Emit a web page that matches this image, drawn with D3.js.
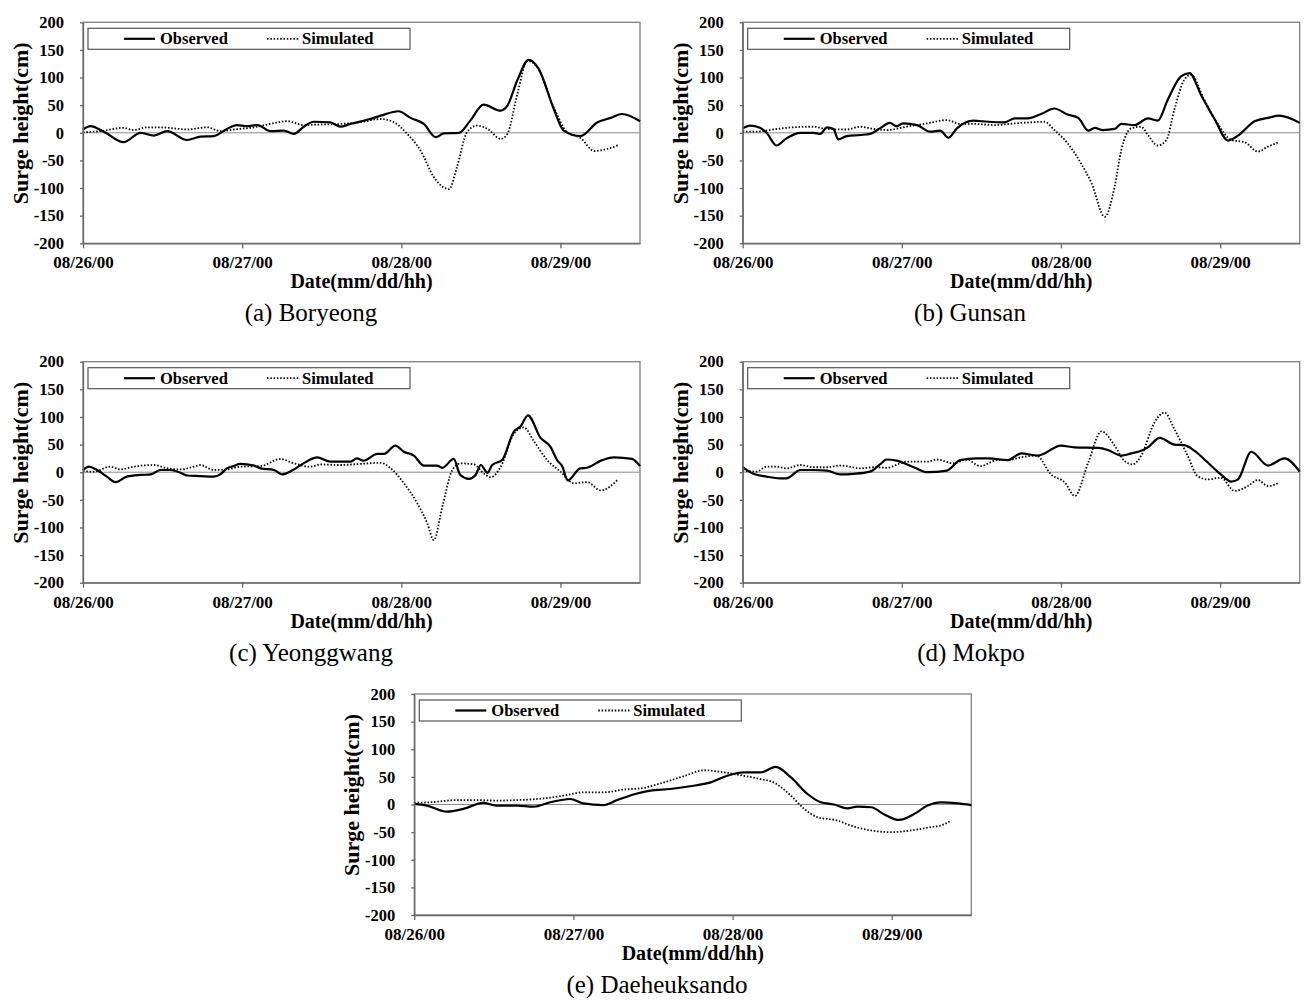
<!DOCTYPE html>
<meta charset="utf-8">
<style>
  body { margin: 0; background: #fff; }
  svg text { font-family: 'Liberation Serif', 'Times New Roman', serif; fill: #000; }
  .axis text { font-weight: bold; font-size: 16.5px; }
  .axis-x text { font-size: 17px; }
  .axis path, .axis line { stroke: #666; stroke-width: 1.3; }
  .axis-title { font-weight: bold; font-size: 20px; }
  .axis-title.y-title { font-size: 22px; }
  .legend-label { font-weight: bold; font-size: 16.5px; }
  .caption { font-size: 25px; }
  .frame { fill: none; stroke: #808080; stroke-width: 1.3; }
  .legend-box { fill: #fff; stroke: #555; stroke-width: 1.2; }
  .zero-line { stroke: #8c8c8c; stroke-width: 1; }
  .observed { fill: none; stroke: #000; stroke-width: 2.2; }
  .simulated { fill: none; stroke: #000; stroke-width: 1.8; stroke-dasharray: 1.5,1.8; }
</style>
<body>
<div id="vis"></div>
<script src="https://cdn.jsdelivr.net/npm/d3@7"></script>
<script>

// values: [hours since 08/26 00h, surge height in cm]
const stations = ['Boryeong', 'Gunsan', 'Yeonggwang', 'Mokpo', 'Daeheuksando'];
const panelLetters = ['a', 'b', 'c', 'd', 'e'];
const dayTicks = [0, 24, 48, 72];
const dayLabels = ['08/26/00', '08/27/00', '08/28/00', '08/29/00'];
const surgeTicks = [-200, -150, -100, -50, 0, 50, 100, 150, 200];
const seriesNames = ['Observed', 'Simulated'];

const boryeongObs = [[0,6],[1.1,12],[3.4,0],[6.1,-17],[8.7,0],[10.7,-5],[12.7,3],[15.7,-13],[17.7,-7],[19.7,-6],[21.7,7],[23.2,14],[24.7,12],[26.3,14],[28.3,3],[30.3,4],[31.8,-2],[33.3,11],[34.8,20],[37.3,19],[38.8,11],[40.3,16],[43.3,25],[44.9,31],[47.6,39],[49.4,27],[51.4,16],[53.2,-8],[54.4,-1],[56.7,0],[58.4,22],[60.4,51],[63,40],[64,49],[65.5,95],[67.2,132],[68.7,116],[71,43],[72.5,4],[75,-6],[77.6,19],[79.6,27],[81.3,34],[84,21]];
const boryeongSim = [[0,1],[2.6,3],[6.1,9],[7.6,5],[9.7,10],[11.7,10],[13.7,8],[15.7,6],[18.7,10],[20.7,3],[22.7,6],[25.8,10],[27.8,15],[30.8,21],[33.3,14],[35.8,15],[38.8,16],[41.8,19],[44.9,25],[46.9,19],[48.9,-2],[50.9,-32],[52.9,-80],[55.2,-102],[56.4,-62],[57.9,1],[59.4,13],[61,7],[63,-11],[64,-2],[65.5,70],[67,130],[68.5,119],[71,46],[73,1],[75,-9],[77.1,-33],[79.1,-29],[80.8,-22]];

const gunsanObs = [[0,8],[1.1,13],[2.6,9],[3.6,0],[5.1,-23],[6.6,-10],[8.7,0],[10.7,0],[11.7,-2],[12.7,10],[13.7,7],[14.4,-12],[15.7,-6],[17.7,-4],[19.2,-2],[20.7,8],[22.2,18],[23.2,12],[24.2,17],[26.3,14],[28.3,2],[29.8,4],[31,-9],[32.3,8],[34.8,22],[37,20],[39.5,19],[41,26],[43,26],[45,34],[47,44],[49,33],[50.6,27],[52.1,4],[53.1,9],[54.3,5],[56.1,7],[57.1,16],[59.1,14],[61.1,26],[62.6,22],[64.1,60],[66.1,102],[67.4,108],[69.1,69],[71.2,24],[73.2,-14],[74.7,-5],[77.2,21],[79.2,27],[80.9,31],[84,18]];
const gunsanSim = [[0,2],[2.1,2],[4.6,6],[7.6,10],[10.7,11],[12.7,7],[15.7,6],[17.7,11],[19.7,7],[21.7,5],[24.7,11],[27.8,17],[30.8,23],[32.8,16],[35,16],[38,14],[41,17],[43.5,19],[45.5,20],[47,5],[49,-19],[51,-55],[52.6,-91],[54.6,-152],[56.1,-97],[57.1,-31],[58.6,8],[60.1,11],[61.1,-4],[62.6,-23],[63.9,-13],[65.1,42],[66.6,96],[67.6,105],[69.6,60],[71.6,17],[73.7,-13],[75.7,-17],[77.7,-34],[79.2,-25],[80.9,-17]];

const yeonggwangObs = [[0,4],[0.9,10],[2.1,4],[3.6,-8],[4.9,-18],[6.6,-8],[8.7,-5],[10.2,-4],[11.7,4],[13.2,4],[14.7,-1],[15.7,-6],[17.7,-7],[19.7,-8],[20.7,-4],[21.7,7],[22.7,11],[23.7,15],[25.8,12],[26.8,7],[28.8,4],[30,-4],[31.8,5],[33.8,20],[35.3,27],[37.3,19],[40.3,19],[41.3,25],[42.3,21],[44.4,33],[45.4,33],[47.1,48],[48.4,37],[49.9,30],[51.4,12],[53.4,12],[54.2,8],[55.9,24],[56.9,-5],[58.2,-12],[59.2,-5],[60,13],[61,-1],[61.7,13],[63.2,22],[65,74],[66,83],[67.1,103],[69,62],[70.5,46],[71.5,22],[72.3,10],[73.1,-15],[75,7],[76,8],[78.1,21],[80.1,27],[82.8,24],[84,11]];
const yeonggwangSim = [[0,2],[1.6,1],[4.1,10],[5.6,5],[7.6,10],[10.7,13],[12.7,7],[14.7,5],[16.7,10],[17.7,13],[19.7,4],[21.7,5],[23.7,10],[26.8,11],[29.8,24],[31.8,16],[34.3,10],[35.8,14],[38.8,13],[41.8,15],[44.9,17],[46.4,7],[48.4,-20],[50.4,-56],[51.9,-92],[52.9,-123],[54.2,-62],[55.7,4],[56.9,16],[59,14],[60.4,-2],[61.5,-9],[63,10],[65,70],[66.5,81],[68,56],[70,22],[72,1],[74,-20],[76,-18],[78.1,-33],[80.6,-14]];

const mokpoObs = [[0,9],[1.6,-3],[3.6,-8],[5.6,-11],[6.6,-11],[8.7,4],[10.7,4],[12.7,3],[14.7,-4],[16.7,-3],[19.2,1],[20.7,14],[21.7,23],[23.2,21],[25.8,9],[27.8,0],[30.8,3],[32.8,22],[35.3,25],[37,25],[40,22],[42,34],[44.5,30],[48,48],[50,45],[53.6,44],[55.1,40],[57.1,30],[58.6,34],[60.1,39],[61.1,45],[62.9,62],[65.1,50],[66.6,49],[68.1,39],[70.1,18],[72.1,-4],[73.7,-17],[74.7,-13],[76.7,37],[79.2,12],[81.7,25],[84,1]];
const mokpoSim = [[0,3],[2.1,1],[3.6,10],[5.1,10],[6.6,7],[8.7,13],[10.7,9],[12.7,9],[14.7,12],[15.7,11],[17.7,7],[19.7,9],[21.7,8],[24.7,19],[27.8,19],[29.3,23],[31.8,16],[33.8,23],[35.8,11],[38.5,22],[40,22],[42,27],[44.3,30],[46.5,-4],[48.6,-19],[50.1,-43],[52.1,17],[54.1,74],[56.1,48],[57.6,20],[58.8,14],[60.1,30],[62.1,90],[63.6,108],[65.1,78],[67.1,30],[68.6,-7],[70.1,-13],[72.1,-10],[74.2,-34],[76.2,-25],[77.7,-14],[79.2,-25],[80.9,-19]];

const daeheuksandoObs = [[0,1],[1.9,-2],[4.9,-13],[7.4,-8],[10.4,3],[12.4,-2],[15.5,-2],[18,-4],[20.5,4],[23.5,10],[25.5,2],[28.5,-1],[30.6,8],[33.6,20],[35.6,25],[38.6,28],[41.6,33],[44.7,40],[47.2,52],[49.7,58],[52.2,58],[54.5,68],[56.8,49],[59.3,19],[61.3,4],[63.3,0],[65.3,-7],[66.8,-4],[68.9,-5],[70.9,-18],[73.1,-28],[75.4,-17],[77.4,-2],[79.4,4],[82,2],[84,-1]];
const daeheuksandoSim = [[0,3],[2.4,4],[6.4,8],[9.4,8],[12.4,7],[15.5,8],[19.5,11],[22.5,16],[25.5,22],[28.5,22],[31.6,27],[34.6,30],[36.5,36],[40.6,51],[43.7,62],[46.7,58],[49.7,52],[52.2,46],[54.2,40],[56.8,16],[58.8,-8],[60.8,-23],[63.8,-29],[65.8,-38],[68.9,-47],[71.9,-50],[74.9,-47],[77.9,-41],[79.4,-38],[81,-29]];

const observed = [boryeongObs, gunsanObs, yeonggwangObs, mokpoObs, daeheuksandoObs];
const simulated = [boryeongSim, gunsanSim, yeonggwangSim, mokpoSim, daeheuksandoSim];

// page layout (pixels)
const width = 1304, height = 1008;
const plotW = 557, plotH = 221;
const layout = [
  {left: 83, top: 22.3, capX: 311},
  {left: 742.7, top: 22.3, capX: 970},
  {left: 83, top: 361.7, capX: 311},
  {left: 742.7, top: 361.7, capX: 971},
  {left: 414.3, top: 694, capX: 657}
];

const x = d3.scaleLinear().domain([0, 84]).range([0, plotW]);
const y = d3.scaleLinear().domain([-200, 200]).range([plotH, 0]);
const line = d3.line()
    .x(d => x(d[0]))
    .y(d => y(d[1]))
    .curve(d3.curveMonotoneX);

const svg = d3.select('#vis').append('svg')
    .attr('width', width)
    .attr('height', height);

layout.forEach((p, i) => {
  let g = svg.append('g')
      .attr('class', 'panel panel-' + panelLetters[i])
      .attr('transform', 'translate(' + [p.left, p.top] + ')');

  g.append('rect')
      .attr('class', 'frame')
      .attr('width', plotW)
      .attr('height', plotH);
  g.append('line')
      .attr('class', 'zero-line')
      .attr('x1', 0).attr('x2', plotW)
      .attr('y1', y(0)).attr('y2', y(0));

  g.append('path')
      .attr('class', 'simulated')
      .attr('d', line(simulated[i]));
  g.append('path')
      .attr('class', 'observed')
      .attr('d', line(observed[i]));

  g.append('g')
      .attr('class', 'axis axis-y')
      .call(d3.axisLeft(y)
        .tickValues(surgeTicks)
        .tickSize(3)
        .tickSizeOuter(0)
        .tickPadding(16)
        .tickFormat(d => String(d)));
  g.append('g')
      .attr('class', 'axis axis-x')
      .attr('transform', 'translate(0,' + plotH + ')')
      .call(d3.axisBottom(x)
        .tickValues(dayTicks)
        .tickSize(5)
        .tickSizeOuter(0)
        .tickPadding(8)
        .tickFormat((d, k) => dayLabels[k]));
  g.selectAll('.axis').attr('font-family', null).attr('font-size', null);

  g.append('text')
      .attr('class', 'axis-title y-title')
      .attr('text-anchor', 'middle')
      .attr('transform', 'translate(-55,101) rotate(-90)')
      .text('Surge height(cm)');
  g.append('text')
      .attr('class', 'axis-title')
      .attr('text-anchor', 'middle')
      .attr('x', plotW / 2)
      .attr('y', plotH + 45)
      .text('Date(mm/dd/hh)');

  // legend
  let lg = g.append('g').attr('transform', 'translate(5,6)');
  lg.append('rect')
      .attr('class', 'legend-box')
      .attr('width', 322)
      .attr('height', 21);
  lg.append('line')
      .attr('class', 'observed')
      .attr('x1', 36).attr('x2', 67)
      .attr('y1', 10.5).attr('y2', 10.5);
  lg.append('text')
      .attr('class', 'legend-label')
      .attr('x', 72).attr('y', 16)
      .text(seriesNames[0]);
  lg.append('line')
      .attr('class', 'simulated')
      .attr('x1', 179).attr('x2', 212)
      .attr('y1', 10.5).attr('y2', 10.5);
  lg.append('text')
      .attr('class', 'legend-label')
      .attr('x', 214).attr('y', 16)
      .text(seriesNames[1]);

  svg.append('text')
      .attr('class', 'caption')
      .attr('text-anchor', 'middle')
      .attr('x', p.capX)
      .attr('y', p.top + 299)
      .text('(' + panelLetters[i] + ') ' + stations[i]);
});

</script>
</body>
